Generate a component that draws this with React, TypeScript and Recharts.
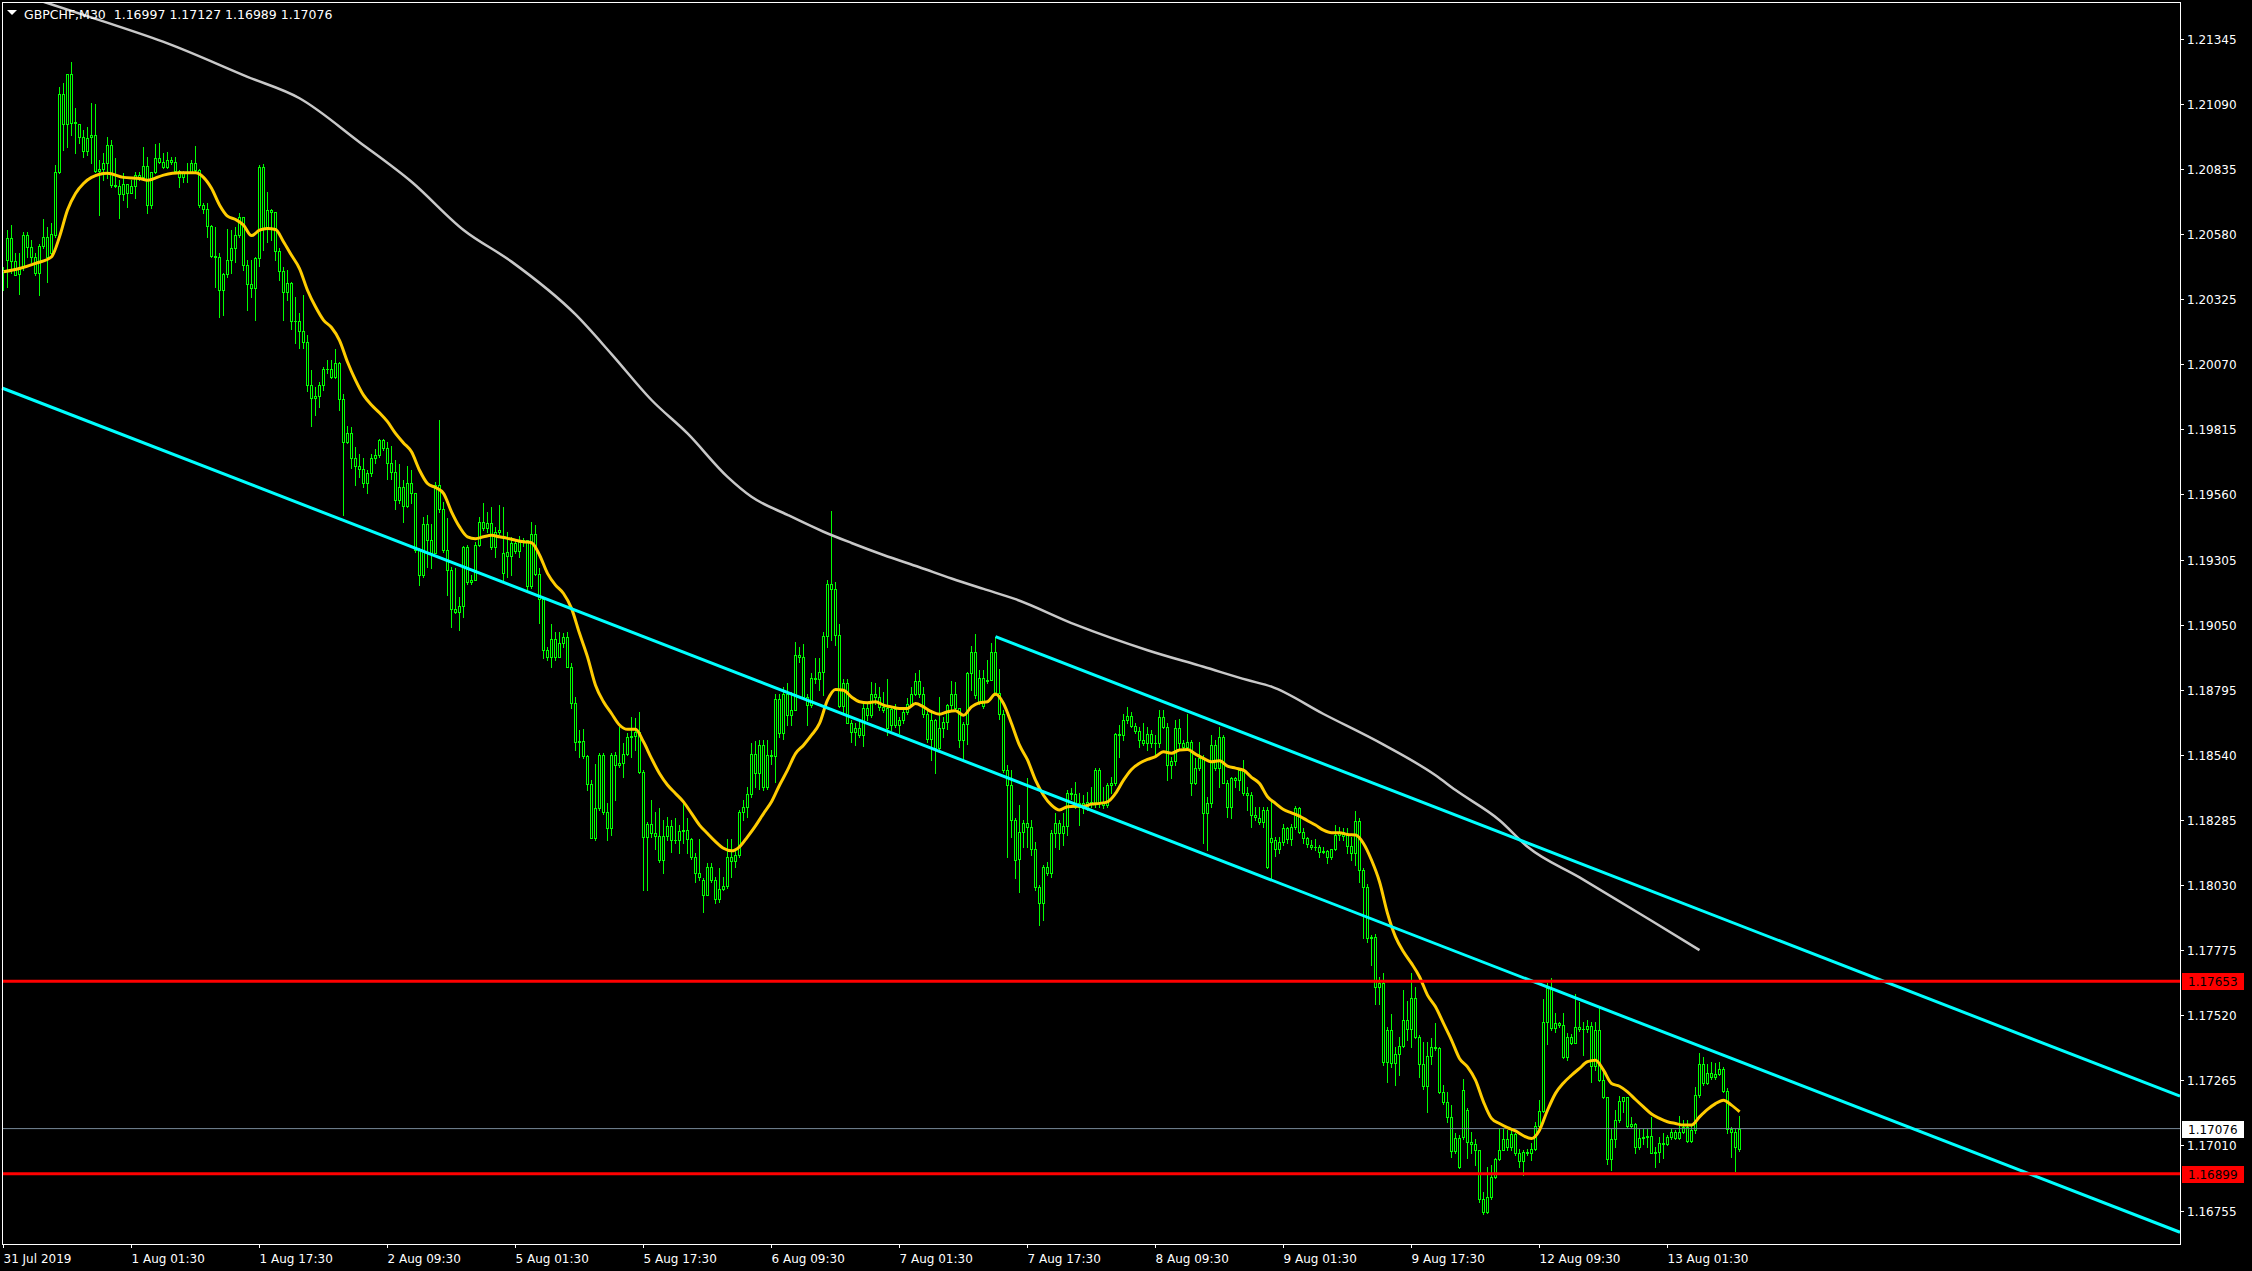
import React from 'react';
import { ComposedChart, Bar, Line, XAxis, YAxis, ReferenceLine } from 'recharts';

// GBPCHF M30 — prices are stored as points above 1.16000
const BASE = 1.16;
const POINT = 0.00001;

const OPEN = [
  4430, 4478, 4563, 4475, 4423, 4452, 4576, 4528, 4489, 4426,
  4534, 4567, 4504, 4575, 4822, 5128, 5013, 5207, 5016, 5011,
  4959, 4906, 4959, 4968, 4828, 4833, 4857, 4929, 4772, 4770,
  4737, 4775, 4740, 4770, 4811, 4803, 4846, 4694, 4824, 4876,
  4864, 4841, 4872, 4861, 4828, 4802, 4818, 4824, 4859, 4831,
  4694, 4680, 4613, 4495, 4491, 4361, 4423, 4478, 4524, 4576,
  4648, 4457, 4384, 4370, 4488, 4843, 4598, 4676, 4665, 4514,
  4436, 4354, 4389, 4240, 4238, 4201, 4158, 3988, 3936, 3945,
  3988, 4053, 4050, 4021, 4076, 3932, 3766, 3799, 3701, 3671,
  3660, 3603, 3645, 3701, 3714, 3773, 3742, 3684, 3649, 3540,
  3590, 3514, 3603, 3566, 3342, 3244, 3444, 3381, 3329, 3596,
  3505, 3342, 3266, 3113, 3100, 3122, 3355, 3218, 3225, 3361,
  3453, 3430, 3449, 3355, 3414, 3329, 3334, 3320, 3371, 3340,
  3375, 3380, 3201, 3404, 3248, 3149, 2951, 2925, 2992, 2924,
  2979, 3000, 2885, 2742, 2591, 2596, 2535, 2426, 2213, 2330,
  2539, 2317, 2252, 2539, 2500, 2510, 2543, 2608, 2612, 2630,
  2474, 2217, 2271, 2232, 2224, 2128, 2222, 2261, 2206, 2208,
  2243, 2246, 2209, 2141, 2078, 2049, 1991, 2099, 2049, 1974,
  2013, 2026, 2138, 2125, 2147, 2317, 2335, 2386, 2543, 2470,
  2578, 2415, 2539, 2534, 2757, 2626, 2778, 2695, 2715, 2931,
  2922, 2767, 2735, 2843, 2836, 2865, 3005, 3211, 3190, 3009,
  2731, 2820, 2665, 2630, 2647, 2617, 2722, 2695, 2778, 2765,
  2728, 2722, 2656, 2719, 2656, 2678, 2709, 2741, 2780, 2830,
  2780, 2702, 2604, 2678, 2565, 2647, 2669, 2735, 2780, 2722,
  2600, 2660, 2859, 2944, 2748, 2843, 2831, 2835, 2944, 2783,
  2702, 2480, 2421, 2284, 2134, 2239, 2274, 2258, 2170, 2023,
  1958, 2102, 2076, 2232, 2274, 2232, 2261, 2392, 2385, 2337,
  2352, 2330, 2356, 2347, 2480, 2350, 2345, 2422, 2428, 2621,
  2616, 2676, 2692, 2653, 2635, 2598, 2585, 2621, 2585, 2588,
  2687, 2650, 2500, 2517, 2644, 2585, 2569, 2591, 2428, 2487,
  2526, 2313, 2350, 2578, 2487, 2611, 2431, 2337, 2448, 2440,
  2480, 2389, 2384, 2304, 2291, 2278, 2324, 2200, 2206, 2173,
  2200, 2252, 2209, 2256, 2330, 2239, 2213, 2187, 2181, 2178,
  2160, 2163, 2138, 2170, 2228, 2239, 2230, 2183, 2154, 2282,
  2089, 2023, 1821, 1828, 1632, 1645, 1338, 1464, 1334, 1368,
  1399, 1501, 1468, 1586, 1436, 1331, 1242, 1360, 1394, 1391,
  1220, 1181, 1122, 989, 1041, 1044, 1148, 1024, 1016, 992,
  802, 750, 809, 885, 955, 994, 1037, 1002, 1054, 981,
  950, 985, 980, 998, 1086, 1146, 1494, 1625, 1472, 1488,
  1482, 1357, 1436, 1412, 1475, 1466, 1467, 1477, 1321, 1462,
  1268, 1198, 955, 1037, 1109, 1185, 1198, 1087, 1095, 1002,
  1041, 1045, 1049, 981, 984, 1018, 1016, 1044, 1063, 1041,
  1063, 1083, 1028, 1070, 1207, 1331, 1253, 1292, 1280, 1289,
  1308, 1224, 1073, 1062, 997,
];

const HIGH = [
  4452, 4596, 4615, 4504, 4504, 4589, 4589, 4556, 4504, 4543,
  4639, 4609, 4622, 4850, 5157, 5170, 5207, 5254, 5072, 5013,
  4987, 5000, 5092, 5089, 4870, 4896, 4961, 4948, 4876, 4791,
  4818, 4778, 4791, 4824, 4824, 4922, 4883, 4824, 4933, 4935,
  4896, 4902, 4880, 4883, 4831, 4828, 4857, 4870, 4925, 4835,
  4700, 4700, 4615, 4609, 4504, 4426, 4600, 4596, 4609, 4661,
  4648, 4478, 4478, 4491, 4850, 4854, 4746, 4680, 4668, 4524,
  4452, 4439, 4393, 4334, 4269, 4341, 4184, 4047, 3982, 4001,
  4060, 4086, 4086, 4128, 4080, 3953, 3828, 3825, 3747, 3720,
  3701, 3655, 3720, 3740, 3779, 3779, 3766, 3749, 3694, 3681,
  3616, 3671, 3655, 3566, 3349, 3472, 3479, 3446, 3609, 3851,
  3531, 3466, 3276, 3270, 3159, 3358, 3361, 3244, 3374, 3472,
  3525, 3492, 3511, 3433, 3518, 3512, 3414, 3395, 3381, 3397,
  3390, 3381, 3453, 3440, 3270, 3153, 2964, 3052, 3022, 3022,
  3016, 3022, 2898, 2768, 2637, 2640, 2539, 2441, 2506, 2546,
  2546, 2350, 2546, 2552, 2650, 2585, 2624, 2689, 2683, 2709,
  2480, 2278, 2363, 2317, 2330, 2284, 2297, 2284, 2291, 2265,
  2350, 2291, 2213, 2154, 2209, 2056, 2117, 2117, 2062, 2095,
  2062, 2209, 2209, 2173, 2324, 2363, 2415, 2585, 2595, 2598,
  2598, 2598, 2558, 2780, 2780, 2806, 2820, 2787, 2983, 2963,
  2976, 2780, 2859, 2918, 2918, 3022, 3224, 3496, 3218, 3052,
  2839, 2839, 2676, 2663, 2676, 2741, 2741, 2826, 2822, 2806,
  2787, 2839, 2728, 2741, 2689, 2728, 2761, 2806, 2859, 2874,
  2804, 2715, 2715, 2682, 2765, 2689, 2741, 2830, 2826, 2725,
  2669, 2865, 2966, 3015, 2872, 2872, 2911, 2979, 3002, 2878,
  2715, 2500, 2480, 2291, 2343, 2285, 2448, 2285, 2200, 2030,
  2108, 2121, 2245, 2311, 2285, 2311, 2402, 2409, 2435, 2389,
  2383, 2396, 2415, 2487, 2487, 2415, 2428, 2454, 2624, 2657,
  2702, 2726, 2709, 2663, 2650, 2663, 2650, 2637, 2618, 2715,
  2715, 2663, 2533, 2676, 2679, 2598, 2702, 2598, 2526, 2591,
  2539, 2376, 2617, 2598, 2650, 2617, 2441, 2454, 2454, 2487,
  2520, 2415, 2396, 2337, 2337, 2337, 2337, 2363, 2219, 2219,
  2271, 2258, 2271, 2339, 2337, 2252, 2219, 2206, 2209, 2187,
  2180, 2167, 2173, 2265, 2258, 2252, 2252, 2219, 2321, 2291,
  2095, 2036, 1834, 1840, 1671, 1684, 1475, 1524, 1396, 1436,
  1618, 1577, 1684, 1632, 1442, 1416, 1416, 1429, 1488, 1396,
  1246, 1220, 1168, 1057, 1050, 1272, 1155, 1063, 1037, 994,
  828, 926, 933, 959, 1076, 1076, 1070, 1070, 1057, 998,
  992, 998, 1018, 1103, 1190, 1582, 1645, 1664, 1527, 1494,
  1527, 1449, 1446, 1605, 1573, 1494, 1501, 1494, 1494, 1553,
  1305, 1201, 1076, 1148, 1203, 1201, 1201, 1122, 1099, 1076,
  1076, 1076, 1122, 1005, 1044, 1057, 1050, 1073, 1070, 1125,
  1109, 1109, 1090, 1240, 1373, 1357, 1331, 1338, 1334, 1338,
  1318, 1237, 1083, 1076, 1127,
];

const LOW = [
  4361, 4374, 4426, 4419, 4347, 4439, 4491, 4472, 4419, 4341,
  4524, 4393, 4491, 4570, 4818, 4909, 4922, 4968, 4896, 4935,
  4883, 4890, 4857, 4824, 4654, 4791, 4798, 4765, 4765, 4641,
  4713, 4687, 4740, 4720, 4792, 4792, 4661, 4681, 4818, 4857,
  4837, 4837, 4854, 4820, 4765, 4785, 4785, 4818, 4818, 4687,
  4661, 4570, 4491, 4374, 4256, 4263, 4413, 4426, 4472, 4570,
  4439, 4282, 4334, 4243, 4454, 4517, 4550, 4556, 4480, 4400,
  4243, 4321, 4210, 4154, 4132, 4132, 3966, 3827, 3871, 3903,
  3969, 4034, 4018, 4018, 3890, 3479, 3760, 3662, 3596, 3629,
  3590, 3564, 3632, 3684, 3707, 3733, 3622, 3622, 3505, 3525,
  3453, 3511, 3525, 3335, 3205, 3237, 3276, 3270, 3329, 3492,
  3335, 3165, 3041, 3094, 3028, 3080, 3211, 3211, 3224, 3358,
  3420, 3414, 3348, 3316, 3407, 3218, 3238, 3244, 3329, 3316,
  3360, 3179, 3192, 3244, 3055, 2918, 2911, 2885, 2911, 2924,
  2964, 2885, 2722, 2559, 2533, 2526, 2402, 2213, 2206, 2324,
  2310, 2206, 2226, 2363, 2493, 2454, 2539, 2532, 2559, 2467,
  2010, 2010, 2219, 2173, 2121, 2078, 2206, 2160, 2193, 2154,
  2193, 2154, 2134, 2043, 2049, 1925, 1991, 2043, 1958, 1965,
  2010, 2017, 2062, 2102, 2141, 2284, 2297, 2376, 2415, 2408,
  2402, 2408, 2506, 2434, 2611, 2604, 2656, 2656, 2715, 2904,
  2761, 2656, 2728, 2820, 2793, 2774, 2963, 2989, 2970, 2728,
  2709, 2663, 2591, 2578, 2611, 2574, 2676, 2689, 2741, 2715,
  2709, 2617, 2637, 2650, 2624, 2663, 2702, 2735, 2774, 2767,
  2689, 2591, 2519, 2470, 2558, 2611, 2643, 2715, 2715, 2571,
  2522, 2584, 2793, 2761, 2741, 2722, 2820, 2833, 2774, 2682,
  2473, 2141, 2219, 2056, 2004, 2180, 2180, 2147, 2010, 1873,
  1893, 2069, 2062, 2180, 2173, 2187, 2226, 2369, 2330, 2265,
  2311, 2324, 2337, 2337, 2337, 2330, 2337, 2389, 2422, 2533,
  2598, 2663, 2650, 2624, 2572, 2578, 2559, 2572, 2539, 2572,
  2644, 2441, 2448, 2500, 2559, 2559, 2559, 2383, 2426, 2480,
  2193, 2167, 2337, 2480, 2415, 2428, 2298, 2291, 2415, 2402,
  2383, 2324, 2258, 2285, 2271, 2258, 2095, 2049, 2143, 2154,
  2187, 2193, 2187, 2248, 2235, 2193, 2180, 2173, 2167, 2141,
  2156, 2115, 2134, 2167, 2206, 2206, 2156, 2130, 2108, 2043,
  1821, 1808, 1716, 1566, 1566, 1325, 1259, 1318, 1246, 1285,
  1396, 1423, 1396, 1429, 1279, 1233, 1142, 1331, 1383, 1214,
  1174, 1103, 966, 979, 920, 1037, 959, 979, 933, 789,
  743, 746, 802, 881, 952, 992, 992, 992, 972, 926,
  894, 972, 952, 992, 1083, 1142, 1409, 1462, 1455, 1475,
  1351, 1344, 1407, 1412, 1459, 1364, 1455, 1259, 1305, 1263,
  1194, 937, 913, 1005, 1103, 1142, 1083, 1083, 979, 998,
  1015, 1005, 979, 926, 946, 959, 1011, 1037, 1037, 1037,
  1057, 1024, 1024, 1060, 1201, 1246, 1250, 1272, 1272, 1285,
  1220, 1057, 965, 911, 989,
];

const CLOSE = [
  4440, 4563, 4475, 4420, 4452, 4576, 4528, 4489, 4426, 4534,
  4567, 4491, 4580, 4822, 5128, 5013, 5207, 5016, 5020, 4959,
  4906, 4955, 4968, 4828, 4833, 4857, 4929, 4772, 4770, 4737,
  4775, 4740, 4770, 4811, 4803, 4846, 4694, 4824, 4876, 4864,
  4841, 4872, 4861, 4828, 4802, 4818, 4824, 4859, 4831, 4694,
  4680, 4613, 4495, 4491, 4361, 4423, 4478, 4524, 4576, 4648,
  4457, 4384, 4370, 4488, 4843, 4598, 4676, 4665, 4514, 4436,
  4354, 4389, 4240, 4238, 4201, 4158, 3988, 3936, 3945, 3988,
  4053, 4050, 4021, 4076, 3932, 3766, 3799, 3701, 3671, 3660,
  3603, 3645, 3701, 3714, 3773, 3742, 3684, 3649, 3540, 3590,
  3514, 3603, 3566, 3342, 3244, 3444, 3381, 3329, 3596, 3505,
  3342, 3266, 3113, 3100, 3122, 3355, 3218, 3225, 3361, 3453,
  3430, 3449, 3355, 3414, 3420, 3251, 3320, 3371, 3340, 3375,
  3380, 3201, 3404, 3248, 3149, 2951, 2925, 2992, 2924, 2979,
  3000, 2885, 2742, 2591, 2596, 2535, 2426, 2213, 2330, 2539,
  2317, 2252, 2539, 2500, 2510, 2543, 2608, 2612, 2630, 2474,
  2217, 2271, 2232, 2224, 2128, 2222, 2261, 2206, 2208, 2243,
  2246, 2209, 2141, 2078, 2060, 1991, 2099, 2049, 1974, 2013,
  2026, 2138, 2125, 2147, 2317, 2335, 2386, 2543, 2470, 2578,
  2415, 2539, 2534, 2757, 2626, 2778, 2695, 2715, 2931, 2922,
  2767, 2735, 2843, 2836, 2865, 3005, 3211, 3190, 3009, 2731,
  2820, 2665, 2630, 2647, 2617, 2722, 2695, 2778, 2765, 2728,
  2715, 2647, 2719, 2656, 2678, 2709, 2741, 2780, 2830, 2780,
  2702, 2604, 2678, 2565, 2647, 2669, 2735, 2780, 2722, 2600,
  2660, 2859, 2944, 2774, 2843, 2731, 2835, 2944, 2783, 2702,
  2480, 2421, 2284, 2128, 2239, 2274, 2258, 2170, 2023, 1958,
  2102, 2076, 2232, 2274, 2232, 2261, 2392, 2385, 2337, 2352,
  2330, 2356, 2347, 2480, 2350, 2345, 2422, 2428, 2621, 2616,
  2676, 2692, 2653, 2635, 2598, 2585, 2621, 2585, 2588, 2687,
  2650, 2500, 2517, 2644, 2585, 2569, 2591, 2428, 2487, 2526,
  2313, 2350, 2578, 2487, 2611, 2431, 2337, 2448, 2440, 2480,
  2389, 2384, 2304, 2296, 2278, 2324, 2102, 2213, 2173, 2200,
  2252, 2209, 2256, 2330, 2239, 2213, 2190, 2181, 2178, 2160,
  2163, 2138, 2170, 2228, 2239, 2224, 2183, 2154, 2282, 2089,
  2023, 1821, 1828, 1632, 1645, 1338, 1464, 1334, 1368, 1399,
  1501, 1468, 1586, 1436, 1331, 1242, 1360, 1394, 1391, 1220,
  1181, 1122, 989, 1041, 924, 1227, 1024, 1016, 992, 802,
  750, 809, 885, 955, 994, 1037, 1002, 1054, 981, 950,
  985, 980, 998, 1086, 1146, 1494, 1625, 1472, 1488, 1482,
  1357, 1436, 1412, 1475, 1466, 1467, 1477, 1321, 1462, 1268,
  1198, 955, 1037, 1109, 1185, 1198, 1087, 1095, 1002, 1041,
  1045, 1049, 981, 984, 1018, 1016, 1044, 1063, 1041, 1063,
  1083, 1028, 1070, 1207, 1331, 1253, 1292, 1280, 1289, 1308,
  1224, 1073, 1062, 1002, 1076,
];

// yellow moving average, read at these bars
const MA_FAST_BAR = [
  0, 4, 8, 12, 14, 16, 18, 20, 22, 26,
  30, 34, 36, 40, 44, 48, 50, 52, 54, 56,
  58, 60, 62, 64, 66, 68, 70, 72, 74, 76,
  78, 80, 82, 84, 86, 88, 90, 92, 94, 96,
  98, 100, 102, 104, 106, 108, 110, 112, 114, 116,
  118, 120, 122, 124, 126, 128, 130, 132, 134, 136,
  138, 140, 142, 144, 146, 148, 150, 152, 154, 156,
  158, 160, 162, 164, 166, 168, 170, 172, 174, 176,
  178, 180, 182, 184, 186, 188, 190, 192, 194, 196,
  198, 200, 202, 204, 206, 208, 210, 212, 214, 216,
  218, 220, 222, 224, 226, 228, 230, 232, 234, 236,
  238, 240, 242, 244, 246, 248, 250, 252, 254, 256,
  258, 260, 262, 264, 266, 268, 270, 272, 274, 276,
  278, 280, 282, 284, 286, 288, 290, 292, 294, 296,
  298, 300, 302, 304, 306, 308, 310, 312, 314, 316,
  318, 320, 322, 324, 326, 328, 330, 332, 334, 336,
  338, 340, 342, 344, 346, 348, 350, 352, 354, 356,
  358, 360, 362, 364, 366, 368, 370, 372, 374, 376,
  378, 380, 382, 384, 386, 388, 390, 392, 394, 396,
  398, 400, 402, 404, 406, 408, 410, 412, 414, 416,
  418, 420, 422, 424, 426, 428, 430, 432, 434,
];
const MA_FAST = [
  4432, 4445, 4465, 4491, 4569, 4674, 4739, 4778, 4802, 4818,
  4802, 4798, 4791, 4811, 4820, 4820, 4802, 4759, 4694, 4650,
  4637, 4615, 4574, 4595, 4602, 4598, 4550, 4497, 4445, 4360,
  4295, 4243, 4214, 4164, 4079, 4008, 3949, 3910, 3880, 3845,
  3799, 3762, 3727, 3655, 3603, 3587, 3564, 3492, 3433, 3394,
  3387, 3394, 3400, 3394, 3388, 3381, 3375, 3371, 3323, 3251,
  3205, 3172, 3114, 3016, 2924, 2813, 2748, 2702, 2657, 2640,
  2640, 2591, 2526, 2467, 2422, 2389, 2356, 2311, 2265, 2232,
  2200, 2174, 2164, 2180, 2219, 2262, 2310, 2356, 2421, 2480,
  2545, 2578, 2617, 2663, 2754, 2796, 2793, 2767, 2748, 2744,
  2748, 2735, 2728, 2722, 2722, 2741, 2728, 2709, 2699, 2709,
  2713, 2695, 2728, 2744, 2748, 2778, 2741, 2663, 2578, 2520,
  2441, 2382, 2343, 2324, 2337, 2339, 2339, 2347, 2350, 2356,
  2389, 2441, 2483, 2507, 2522, 2533, 2552, 2546, 2559, 2561,
  2543, 2526, 2513, 2517, 2496, 2488, 2480, 2452, 2428, 2376,
  2350, 2326, 2313, 2300, 2282, 2265, 2245, 2235, 2235, 2228,
  2226, 2193, 2128, 2043, 1919, 1827, 1769, 1723, 1671, 1599,
  1553, 1488, 1423, 1351, 1318, 1266, 1181, 1116, 1096, 1080,
  1067, 1048, 1037, 1070, 1148, 1214, 1255, 1285, 1312, 1338,
  1344, 1305, 1253, 1242, 1220, 1190, 1161, 1133, 1116, 1103,
  1096, 1090, 1090, 1122, 1151, 1174, 1187, 1168, 1142,
];

// silver slow moving average
const MA_SLOW_BAR = [
  10, 24, 41, 61, 74, 89, 102, 115, 127, 143,
  152, 162, 171, 181, 187, 196, 205, 212, 220, 229,
  237, 245, 253, 268, 286, 300, 311, 317, 330, 345,
  358, 363, 374, 381, 394, 412, 424,
];
const MA_SLOW = [
  5490, 5418, 5327, 5196, 5112, 4940, 4785, 4596, 4472, 4265,
  4110, 3930, 3799, 3629, 3551, 3480, 3414, 3370, 3323, 3275,
  3231, 3190, 3150, 3050, 2950, 2885, 2833, 2807, 2700, 2580,
  2460, 2402, 2284, 2180, 2060, 1890, 1775,
];

const TIME_TICKS = [0, 32, 64, 96, 128, 160, 192, 224, 256, 288, 320, 352, 384, 416];
const TIME_LABELS = [
  '31 Jul 2019', '1 Aug 01:30', '1 Aug 17:30', '2 Aug 09:30', '5 Aug 01:30',
  '5 Aug 17:30', '6 Aug 09:30', '7 Aug 01:30', '7 Aug 17:30', '8 Aug 09:30',
  '9 Aug 01:30', '9 Aug 17:30', '12 Aug 09:30', '13 Aug 01:30',
];

const PRICE_TICKS = [
  1.21345, 1.2109, 1.20835, 1.2058, 1.20325, 1.2007, 1.19815, 1.1956, 1.19305, 1.1905,
  1.18795, 1.1854, 1.18285, 1.1803, 1.17775, 1.1752, 1.17265, 1.1701, 1.16755,
];
const LEVELS = [1.17653, 1.16899];
const LAST_PRICE = 1.17076;

// trend channel anchors: [bar, price]
const CHANNEL_LOWER = [[-0.375, 1.19977], [544.125, 1.1667]];
const CHANNEL_UPPER = [[248, 1.19003], [544.125, 1.17203]];

const TITLE = 'GBPCHF,M30  1.16997 1.17127 1.16989 1.17076';

const W = 2252;
const H = 1271;
const FONT = "'DejaVu Sans', Verdana, sans-serif";
const GREEN = '#00FF00';

const toPrice = (p: number) => Math.round((BASE + p * POINT) * 1e5) / 1e5;

type Row = {
  i: number;
  open: number;
  high: number;
  low: number;
  close: number;
  hl: [number, number];
  fast?: number;
  slow?: number;
};

const rows: Row[] = OPEN.map((o, i) => ({
  i,
  open: toPrice(o),
  high: toPrice(HIGH[i]),
  low: toPrice(LOW[i]),
  close: toPrice(CLOSE[i]),
  hl: [toPrice(LOW[i]), toPrice(HIGH[i])],
}));
MA_FAST_BAR.forEach((b, k) => { rows[b].fast = toPrice(MA_FAST[k]); });
MA_SLOW_BAR.forEach((b, k) => { rows[b].slow = toPrice(MA_SLOW[k]); });

function Candle(props: any) {
  const { x, y, width, height, payload } = props;
  if (x == null || y == null || !payload) return null;
  const top = Math.min(y, y + height);
  const span = Math.abs(height);
  const range = payload.high - payload.low || 1;
  const toY = (p: number) => top + ((payload.high - p) / range) * span;
  const cx = Math.floor(x + width / 2) + 0.5;
  const yo = toY(payload.open);
  const yc = toY(payload.close);
  const bt = Math.round(Math.min(yo, yc)) + 0.5;
  const bb = Math.round(Math.max(yo, yc)) + 0.5;
  return (
    <g shapeRendering="crispEdges">
      <line x1={cx} x2={cx} y1={Math.round(top)} y2={Math.round(top + span) + 1} stroke={GREEN} strokeWidth={1} />
      {bb - bt >= 1 ? (
        <rect x={cx - 1} y={bt} width={2} height={bb - bt} fill="#000" stroke={GREEN} strokeWidth={1} />
      ) : (
        <line x1={cx - 1.5} x2={cx + 1.5} y1={bt} y2={bt} stroke={GREEN} strokeWidth={1} />
      )}
    </g>
  );
}

function TimeTick({ x, y, payload }: any) {
  const label = TIME_LABELS[TIME_TICKS.indexOf(payload.value)];
  return (
    <text x={x} y={y + 13} fill="#fff" fontSize={12} fontFamily={FONT} textAnchor="start">
      {label}
    </text>
  );
}

function PriceTick({ x, y, payload }: any) {
  const v = payload.value;
  const label = v.toFixed(5);
  const isLevel = LEVELS.includes(v);
  const isLast = v === LAST_PRICE;
  if (isLevel || isLast) {
    return (
      <g>
        <rect x={x - 5} y={Math.round(y) - 8} width={62} height={17} fill={isLevel ? '#FF0000' : '#FFFFFF'} />
        <text x={x + 1} y={y + 5} fill="#000" fontSize={12} fontFamily={FONT}>
          {label}
        </text>
      </g>
    );
  }
  const ty = Math.round(y) + 0.5;
  return (
    <g>
      <line x1={x - 7} x2={x - 3} y1={ty} y2={ty} stroke="#fff" strokeWidth={1} shapeRendering="crispEdges" />
      <text x={x} y={y + 5} fill="#fff" fontSize={12} fontFamily={FONT}>
        {label}
      </text>
    </g>
  );
}

export default function App() {
  const seg = (pts: number[][]) => pts.map(([x, y]) => ({ x, y }));
  return (
    <div style={{ position: 'fixed', left: 0, top: 0, width: W, height: H, background: '#000', overflow: 'hidden' }}>
      <ComposedChart width={W} height={H} data={rows} margin={{ top: 2, right: 0, bottom: 0, left: 2 }}>
        <XAxis
          dataKey="i"
          type="number"
          domain={[-0.375, 544.125]}
          allowDataOverflow
          ticks={TIME_TICKS}
          interval={0}
          tick={<TimeTick />}
          tickSize={4}
          tickMargin={2}
          axisLine={false}
          tickLine={{ stroke: '#fff' }}
          height={27}
        />
        <YAxis
          orientation="right"
          type="number"
          domain={[1.16624, 1.21489]}
          allowDataOverflow
          ticks={[...PRICE_TICKS, LAST_PRICE, ...LEVELS]}
          interval={0}
          tick={<PriceTick />}
          tickSize={4}
          tickMargin={3}
          axisLine={false}
          tickLine={false}
          width={72}
        />
        <ReferenceLine y={LAST_PRICE} stroke="#778899" strokeWidth={1} />
        <Bar dataKey="hl" barSize={3} shape={(p: any) => <Candle {...p} />} isAnimationActive={false} />
        <Line dataKey="slow" type="monotone" stroke="#C8C8C8" strokeWidth={2.5} dot={false} activeDot={false} connectNulls isAnimationActive={false} />
        <Line dataKey="fast" type="monotone" stroke="#FFCC00" strokeWidth={3} dot={false} activeDot={false} connectNulls isAnimationActive={false} />
        <ReferenceLine segment={seg(CHANNEL_LOWER)} stroke="#00FFFF" strokeWidth={3} ifOverflow="visible" />
        <ReferenceLine segment={seg(CHANNEL_UPPER)} stroke="#00FFFF" strokeWidth={3} ifOverflow="visible" />
        {LEVELS.map((lv) => (
          <ReferenceLine key={lv} y={lv} stroke="#FF0000" strokeWidth={3} />
        ))}
      </ComposedChart>
      <div
        style={{
          position: 'absolute', left: 2, top: 2, width: 2179, height: 1243,
          border: '1px solid #fff', boxSizing: 'border-box', pointerEvents: 'none',
        }}
      />
      <svg width={420} height={26} style={{ position: 'absolute', left: 0, top: 0 }}>
        <polygon points="7,10 17,10 12,15" fill="#fff" />
        <text x={24} y={19} fill="#fff" fontSize={12.5} fontFamily={FONT} style={{ whiteSpace: 'pre' }}>
          {TITLE}
        </text>
      </svg>
    </div>
  );
}
